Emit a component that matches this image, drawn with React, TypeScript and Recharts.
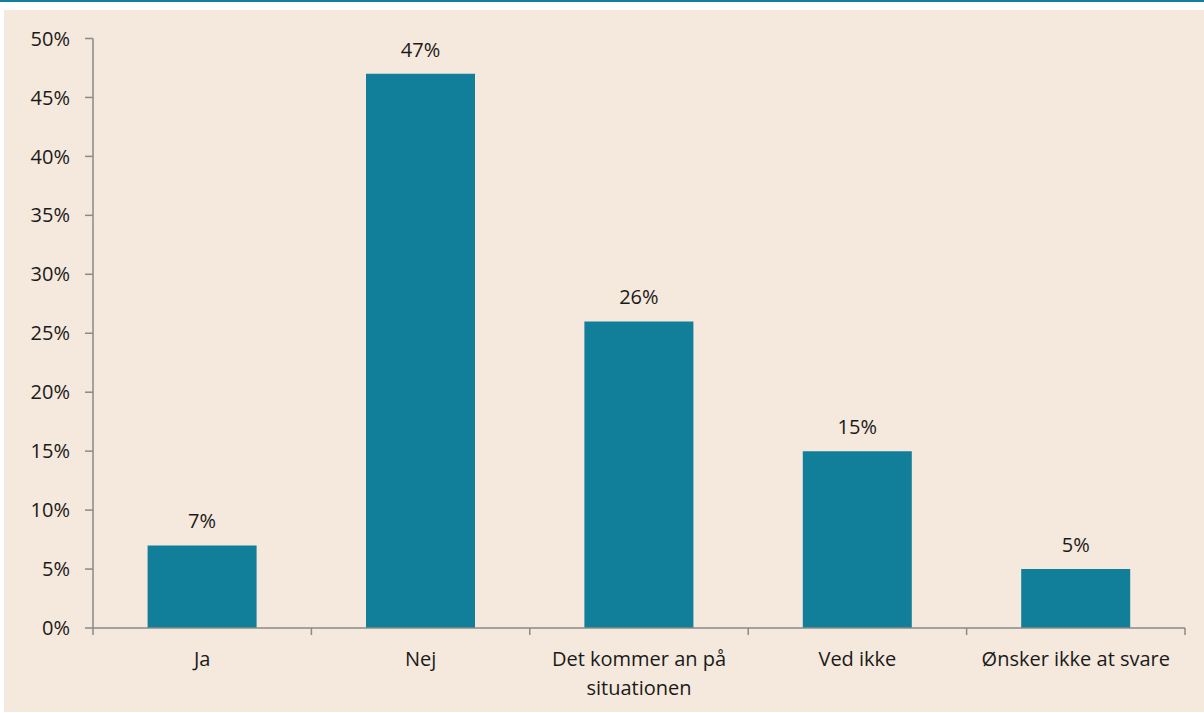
import React from 'react';
import { BarChart, Bar, XAxis, YAxis, LabelList } from 'recharts';

const categories = ['Ja', 'Nej', 'Det kommer an på\nsituationen', 'Ved ikke', 'Ønsker ikke at svare'];
const values = [7, 47, 26, 15, 5];
const yTicks = [0, 5, 10, 15, 20, 25, 30, 35, 40, 45, 50];

const data = categories.map((c, i) => ({ name: c, value: values[i] }));

const AXIS = '#8a8a8a';
const TEXT = '#1a1a1a';
const FONT = '"Open Sans", "Noto Sans", sans-serif';

const XTick = (props: any) => {
  const { x, y, payload, index } = props;
  const half = payload && typeof payload.offset === 'number' && payload.offset > 0 ? payload.offset : 109.2;
  const lines = String(payload.value).split('\n');
  return (
    <g>
      <line x1={x - half} y1={y} x2={x - half} y2={y + 7} stroke={AXIS} strokeWidth={1.5} />
      {index === categories.length - 1 && (
        <line x1={x + half} y1={y} x2={x + half} y2={y + 7} stroke={AXIS} strokeWidth={1.5} />
      )}
      <text x={x} y={y} textAnchor="middle" fill={TEXT} fontSize={20} fontFamily={FONT}>
        {lines.map((l, i) => (
          <tspan key={i} x={x} dy={i === 0 ? 38 : 28.5}>
            {l}
          </tspan>
        ))}
      </text>
    </g>
  );
};

export default function App() {
  return (
    <div style={{ position: 'absolute', left: 0, top: 0, width: 1204, height: 713, background: '#ffffff', overflow: 'hidden' }}>
      <div style={{ position: 'absolute', left: 0, top: 0, width: 1204, height: 2, background: '#137f9b' }} />
      <div style={{ position: 'absolute', left: 4, top: 10, width: 1200, height: 702, background: '#f5e8dc' }} />
      <div style={{ position: 'absolute', left: 0, top: 0 }}>
        <BarChart
          width={1204}
          height={713}
          data={data}
          margin={{ top: 38.5, right: 19, left: 0, bottom: 25 }}
          barCategoryGap="25%"
        >
          <YAxis
            type="number"
            domain={[0, 50]}
            ticks={yTicks}
            interval={0}
            width={93}
            tickFormatter={(v: number) => `${v}%`}
            axisLine={{ stroke: AXIS, strokeWidth: 1.5 }}
            tickLine={{ stroke: AXIS, strokeWidth: 1.5 }}
            tickSize={8}
            tickMargin={15}
            tick={{ fill: TEXT, fontSize: 20, fontFamily: FONT }}
          />
          <XAxis
            dataKey="name"
            type="category"
            interval={0}
            height={60}
            axisLine={{ stroke: AXIS, strokeWidth: 1.5 }}
            tickLine={false}
            tickSize={0}
            tickMargin={0}
            tick={<XTick />}
          />
          <Bar dataKey="value" fill="#117e9a" isAnimationActive={false}>
            <LabelList
              dataKey="value"
              position="top"
              offset={17}
              formatter={(v: any) => `${v}%`}
              style={{ fill: TEXT, fontSize: 20, fontFamily: FONT }}
            />
          </Bar>
        </BarChart>
      </div>
    </div>
  );
}
